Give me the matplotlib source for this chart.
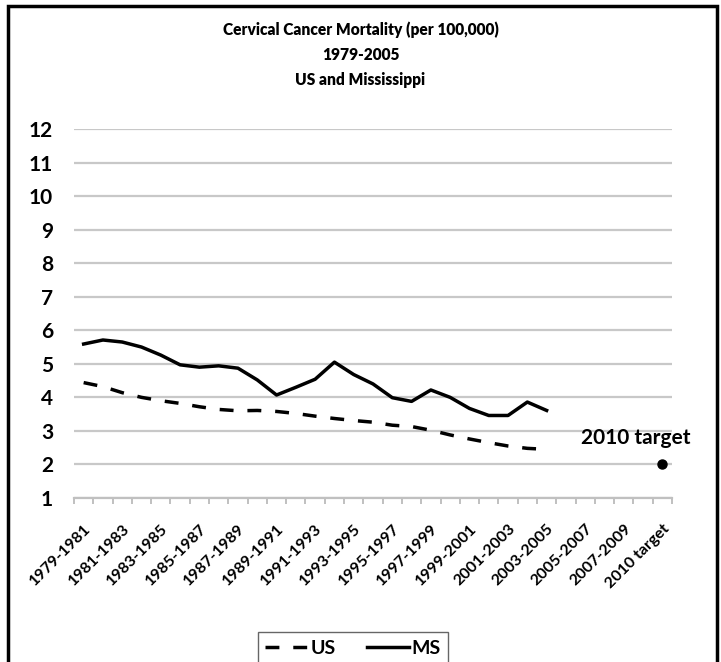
import matplotlib.pyplot as plt
import matplotlib.patches as patches
import numpy as np

plt.rcParams['font.family'] = ['Lato', 'DejaVu Sans']

# categories: 3-year windows 1979-1981 ... 2008-2010, then the target
periods = [f"{y}-{y + 2}" for y in range(1979, 2009)] + ["2010 target"]

# values, 1979-1981 .. 2003-2005
us = [4.44, 4.32, 4.14, 4.00, 3.90, 3.82, 3.72, 3.64, 3.60, 3.61, 3.58, 3.52,
      3.44, 3.37, 3.31, 3.26, 3.17, 3.13, 3.02, 2.88, 2.76, 2.65, 2.55, 2.48, 2.45]
ms = [5.59, 5.71, 5.65, 5.50, 5.26, 4.97, 4.90, 4.94, 4.87, 4.52, 4.07, 4.30,
      4.54, 5.05, 4.68, 4.40, 3.99, 3.88, 4.22, 4.00, 3.67, 3.46, 3.46, 3.86, 3.61]
target = 2.0

fig = plt.figure(figsize=(7.21, 6.62), dpi=100)
ax = fig.add_axes([74 / 721, 164 / 662, 598 / 721, 369 / 662])

x = np.arange(len(periods))
ax.plot(x[:len(us)], us, color='black', lw=2.5, linestyle=(0, (4, 4)), label='US')
ax.plot(x[:len(ms)], ms, color='black', lw=2.5, label='MS')
ax.plot(x[-1], target, 'o', color='black', markersize=6.5)
ax.annotate('2010 target', (x[-1], target), xytext=(-19, 19), textcoords='offset points',
            ha='center', va='center', fontsize=15, fontweight='bold')

ax.set_xlim(-0.5, len(periods) - 0.5)
ax.set_ylim(1, 12)
ax.set_yticks(range(1, 13))
ax.yaxis.grid(True, color='#c8c8c8', lw=1.6)
ax.set_axisbelow(True)
for s in ['left', 'right', 'top']:
    ax.spines[s].set_visible(False)
ax.spines['bottom'].set_color('#c0c0c0')
ax.spines['bottom'].set_linewidth(1.6)

ax.set_xticks(x[::2])
ax.set_xticklabels(periods[::2], rotation=45, ha='right', va='top',
                   rotation_mode='anchor', fontsize=11.5, fontweight='bold')
ax.set_xticks(np.arange(-0.5, len(periods), 1), minor=True)
ax.tick_params(axis='x', which='major', length=0, pad=17)
ax.tick_params(axis='x', which='minor', length=4, width=1.4, color='#c0c0c0')
ax.tick_params(axis='y', length=0, pad=15, labelsize=15)
for lab in ax.get_yticklabels():
    lab.set_fontweight('bold')

# three-line title
fig.text(0.5, 1 - 30 / 662, 'Cervical Cancer Mortality (per 100,000)', ha='center',
         va='center', fontsize=11.2, fontweight='heavy')
fig.text(0.5, 1 - 55 / 662, '1979-2005', ha='center', va='center',
         fontsize=11.2, fontweight='heavy')
fig.text(0.5, 1 - 80 / 662, 'US and Mississippi', ha='center', va='center',
         fontsize=11.2, fontweight='heavy')

leg = fig.legend(loc='center', bbox_to_anchor=(353 / 721, 14 / 662), ncol=2,
                 frameon=True, fancybox=False, handlelength=2.2, handletextpad=0.1,
                 columnspacing=1.6, prop={'weight': 'bold', 'size': 14})
leg.get_frame().set_edgecolor('#404040')
leg.get_frame().set_linewidth(1.0)

# black frame round the whole picture (bottom edge is cut off)
fig.patches.append(patches.Rectangle((7.5 / 721, -0.05), 709.5 / 721, 1.05 - 5.5 / 662,
                                     transform=fig.transFigure, fill=False,
                                     edgecolor='black', lw=2.5))

fig.savefig('out.png', dpi=100)
